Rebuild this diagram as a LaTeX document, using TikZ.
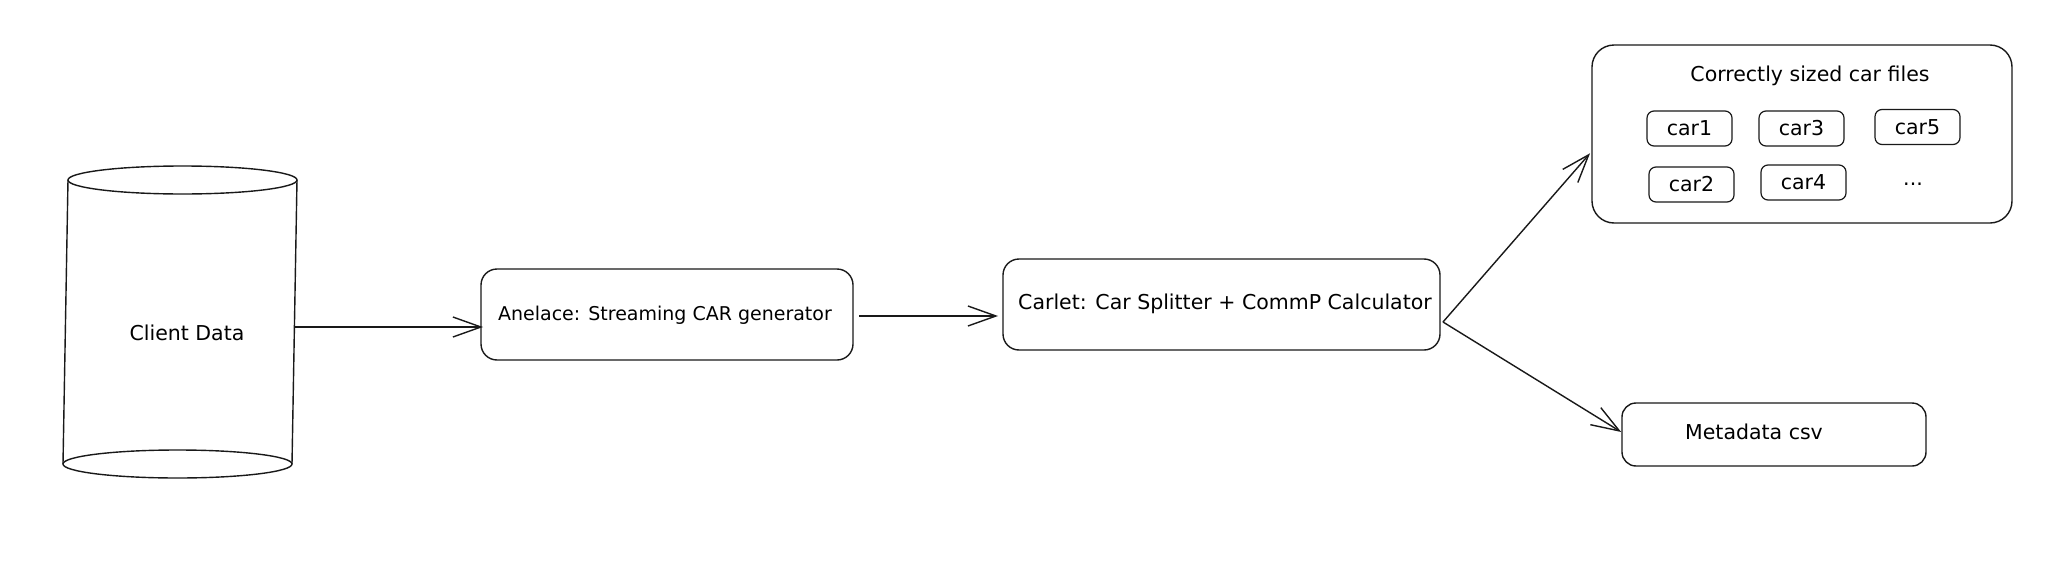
\documentclass[tikz,border=0pt]{standalone}
\usepackage{fontspec}
\setmainfont{DejaVu Sans}
\usetikzlibrary{arrows.meta,calc}
\begin{document}
\begin{tikzpicture}[x=1pt,y=-1pt,
  every node/.style={inner sep=0pt,outer sep=0pt},
  stroke/.style={line width=1.4pt,draw=black!90},
  bigbox/.style={stroke,rounded corners=16pt},
  carbox/.style={stroke,line width=1.2pt,rounded corners=7pt,minimum width=85pt,minimum height=35pt},
  lbl/.style={font=\fontsize{20.5}{24}\selectfont,text=black},
  arr/.style={stroke,-{Straight Barb[length=28pt,width=20pt,line width=1.4pt]}}]
\useasboundingbox (0,0) rectangle (2048,570);
% cylinder
\node[minimum width=229pt,minimum height=284pt] (cyl) at (180,322) {};
\draw[stroke] (68,180) -- (63,464);
\draw[stroke] (297,180) -- (292,464);
\draw[stroke,fill=white] (182.5,180) ellipse [x radius=114.5pt, y radius=14pt];
\draw[stroke] (177.5,464) ellipse [x radius=114.5pt, y radius=14pt];
\node[lbl] (cyltxt) at (187,333) {Client Data};
% boxes
\node[bigbox,minimum width=372pt,minimum height=91pt] (ane) at (667,314.5) {};
\node[lbl,font=\fontsize{19}{23}\selectfont] (anetxt) at (665,315) {Anelace: Streaming CAR generator};
\node[bigbox,minimum width=437pt,minimum height=91pt] (car) at (1221.5,304.5) {};
\node[lbl] (cartxt) at (1225,304) {Carlet: Car Splitter + CommP Calculator};
\node[bigbox,rounded corners=22pt,minimum width=420pt,minimum height=178pt] (files) at (1802,134) {};
\node[lbl] (title) at (1810,76) {Correctly sized car files};
\node[carbox] (c1) at (1689.5,128.5) {};
\node[lbl] at (c1) {car1};
\node[carbox] (c3) at (1801.5,128.5) {};
\node[lbl] at (c3) {car3};
\node[carbox] (c5) at (1917.5,127) {};
\node[lbl] at (c5) {car5};
\node[carbox] (c2) at (1691.5,184.5) {};
\node[lbl] at (c2) {car2};
\node[carbox] (c4) at (1803.5,182.5) {};
\node[lbl] at (c4) {car4};
\node[lbl] (dots) at (1913,184) {...};
\node[bigbox,rounded corners=14pt,minimum width=304pt,minimum height=63pt] (meta) at (1774,434.5) {};
\node[lbl] (metatxt) at (1754,432) {Metadata csv};
% arrows
\coordinate (a1) at ([yshift=-5pt]cyl.east);
\draw[arr,shorten >=-2pt] (a1) -- (a1 -| ane.west);
\draw[arr,shorten <=6pt,shorten >=5pt] ([yshift=-1.5pt]ane.east) -- ([yshift=-1.5pt]ane.east -| car.west);
\coordinate (sp) at (1443,322);
\draw[arr,shorten >=3pt] (sp) -- ([yshift=-17pt]files.west);
\draw[arr,shorten >=1pt] (sp) -- ([yshift=2pt]meta.west);
\end{tikzpicture}
\end{document}
